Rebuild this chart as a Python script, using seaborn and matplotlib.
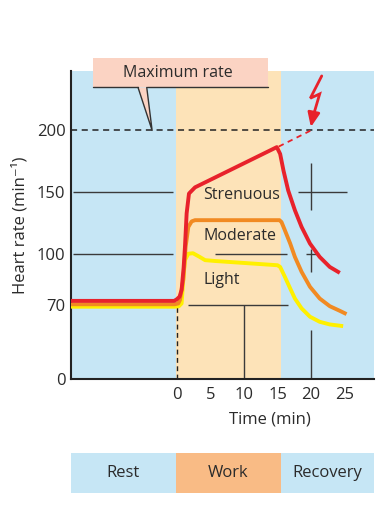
import numpy as np
import pandas as pd
import matplotlib
matplotlib.use("Agg")
import matplotlib.pyplot as plt
import seaborn as sns
from matplotlib.patches import Rectangle, Polygon

sns.set_theme(style="white")
plt.rcParams['font.family'] = ['Open Sans', 'DejaVu Sans']

# ---------------- data ----------------
t_strenuous = [-16, -0.4, 0, 0.4, 0.7, 1.0, 1.2, 1.45, 1.8, 2.7, 14.9, 15.4, 15.9, 16.6, 17.6, 18.6, 19.85, 21.3, 22.8, 24.3]
v_strenuous = [72.5, 72.5, 73.5, 75, 79, 92, 106, 133, 149, 154, 186.5, 181, 167.5, 151.5, 135.5, 122, 108.6, 98.4, 92.5, 89]

t_moderate = [-16, -0.3, 0.2, 0.45, 0.95, 1.3, 1.7, 2.2, 2.7, 15.3, 15.6, 16.1, 16.9, 17.6, 18.6, 19.85, 21.3, 22.8, 24.3, 25.3]
v_moderate = [70.5, 70.5, 71, 73, 85, 106, 122, 126.5, 127.5, 127.5, 126, 119.4, 108.6, 98.4, 89.6, 80.8, 73.9, 69, 64.6, 61.5]

t_light = [-16, -0.3, 0.3, 0.7, 0.95, 1.2, 1.7, 2.4, 3.4, 4.2, 5.7, 15.0, 15.4, 16.1, 16.9, 17.6, 18.6, 19.85, 21.3, 22.8, 24.8]
v_light = [68.5, 68.5, 69, 71, 85, 96.5, 100.4, 100.8, 98.4, 96.5, 96, 93.5, 92.5, 86.7, 79.8, 73.9, 66.9, 59, 54.2, 51.7, 50.1]

series_names = ["Strenuous", "Moderate", "Light"]
series_colors = ["#e8222b", "#f18a22", "#fff000"]

phase_names = ["Rest", "Work", "Recovery"]
phase_start = [-16.0, -0.1, 15.5]
phase_end = [-0.1, 15.5, 29.5]

x_ticks = [0, 5, 10, 15, 20, 25]
y_ticks = [0, 70, 100, 150, 200]
max_rate = 200

# ---------------- figure ----------------
fig = plt.figure(figsize=(3.79, 5.30), dpi=100)
ax = fig.add_axes([71/379, 151/530, 303/379, 308/530])
bar_ax = fig.add_axes([71/379, 37/530, 303/379, 40/530])

# piecewise-linear y scale (broken scale of the reference)
kv = np.array([-1000, 0, 70, 100, 150, 200, 1000], dtype=float)
kp = np.array([-1057, 0, 74, 125, 187, 249, 249 + 800 * 1.24], dtype=float)
def fwd(v):
    return np.interp(v, kv, kp)
def inv(p):
    return np.interp(p, kp, kv)
ax.set_yscale('function', functions=(fwd, inv))

ax.set_facecolor("#c6e6f5")
ax.axvspan(phase_start[1], phase_end[1], color="#fde3b8", lw=0, zorder=0)

ax.set_xlim(-15.8, 29.4)
ax.set_ylim(0, 248)

txtc = "#2b2b2b"
gc = "#3a3a3a"

# grid fragments
ax.hlines(150, -15.5, -0.6, color=gc, lw=1, zorder=1)
ax.hlines(150, 18.1, 25.4, color=gc, lw=1, zorder=1)
ax.hlines(100, -15.5, -0.6, color=gc, lw=1, zorder=1)
ax.hlines(100, 5.7, 16.4, color=gc, lw=1, zorder=1)
ax.hlines(100, 19.2, 21.2, color=gc, lw=1, zorder=1)
ax.hlines(70, 1.6, 16.6, color=gc, lw=1, zorder=1)
ax.vlines(20, 135.5, 174, color=gc, lw=1, zorder=1)
ax.vlines(20, 89.6, 104, color=gc, lw=1, zorder=1)
ax.vlines(20, 0, 46, color=gc, lw=1, zorder=1)
ax.vlines(10, 0, 70, color=gc, lw=1, zorder=1)
ax.vlines(0, 0, 72, color="#222", lw=1, ls=(0, (3.5, 2.5)), zorder=1)

# maximum-rate line
ax.axhline(max_rate, color="#222", lw=1.1, ls=(0, (4, 3)), zorder=2)

# curves via seaborn
frames = []
for name, tt, vv in zip(series_names, [t_strenuous, t_moderate, t_light],
                        [v_strenuous, v_moderate, v_light]):
    frames.append(pd.DataFrame({"t": tt, "rate": vv, "level": name}))
df = pd.concat(frames, ignore_index=True)
sns.lineplot(data=df, x="t", y="rate", hue="level", palette=dict(zip(series_names, series_colors)),
             hue_order=series_names[::-1], lw=2.8, sort=False, legend=False, ax=ax, zorder=3,
             solid_capstyle="butt", solid_joinstyle="round")

# red extrapolation to max rate
ax.plot([15.2, 20], [187, 200], color=series_colors[0], lw=1.3, ls=(0, (3, 2.5)), zorder=3)
# lightning bolt
ax.plot([21.6, 19.9, 21.3, 20.35], [244, 226, 229.5, 212], color=series_colors[0], lw=2, zorder=4,
        solid_joinstyle="miter", clip_on=False)
ax.annotate("", xy=(19.9, 200.5), xytext=(20.4, 214),
            arrowprops=dict(arrowstyle="-|>,head_length=0.7,head_width=0.3", color=series_colors[0], lw=2),
            zorder=4)

# series labels
ax.text(3.9, 148, "Strenuous", fontsize=11.5, color=txtc, va="center", ha="left", zorder=5)
ax.text(3.9, 115, "Moderate", fontsize=11.5, color=txtc, va="center", ha="left", zorder=5)
ax.text(3.9, 85, "Light", fontsize=11.5, color=txtc, va="center", ha="left", zorder=5)

# maximum rate callout
box_fc = "#fbd3c3"
ax.add_patch(Rectangle((-12.5, 234.7), 26.1, 24.2, fc=box_fc, ec="none", clip_on=False, zorder=5))
ax.plot([-12.5, -5.8], [234.7, 234.7], color="#333", lw=1, clip_on=False, zorder=6)
ax.plot([-4.5, 13.6], [234.7, 234.7], color="#333", lw=1, clip_on=False, zorder=6)
ax.add_patch(Polygon([(-5.8, 234.7), (-4.5, 234.7), (-3.7, 200)], closed=True, fc=box_fc,
                     ec="none", clip_on=False, zorder=5))
ax.plot([-5.8, -3.7, -4.5], [234.7, 200, 234.7], color="#333", lw=1, clip_on=False, zorder=6)
ax.text(0.1, 246.5, "Maximum rate", fontsize=11.5, color=txtc, ha="center", va="center", zorder=7)

# axes styling
for s in ["top", "right"]:
    ax.spines[s].set_visible(False)
for s in ["left", "bottom"]:
    ax.spines[s].set_color("#222")
    ax.spines[s].set_linewidth(1.5)
ax.set_xticks(x_ticks)
ax.set_yticks(y_ticks)
ax.set_xticklabels([str(v) for v in x_ticks])
ax.set_yticklabels([str(v) for v in y_ticks])
ax.tick_params(axis="x", direction="in", length=7, width=1, color=gc, pad=6, labelsize=12, labelcolor=txtc)
ax.tick_params(axis="y", direction="in", length=6, width=1, color=gc, pad=4, labelsize=12, labelcolor=txtc)
ax.set_xlabel("Time (min)", fontsize=12, color=txtc)
ax.xaxis.set_label_coords(0.657, -0.107)
ax.set_ylabel("Heart rate (min\u207b\u00b9)", fontsize=12, color=txtc)
ax.yaxis.set_label_coords(-0.14, 0.5)

# phase bar
bar_colors = ["#c6e6f5", "#f9bb85", "#c6e6f5"]
for name, s0, s1, c in zip(phase_names, phase_start, phase_end, bar_colors):
    bar_ax.barh(0, s1 - s0, left=s0, height=1, color=c, lw=0)
    bar_ax.text((s0 + s1) / 2, 0, name, ha="center", va="center", fontsize=12, color=txtc)
bar_ax.set_xlim(ax.get_xlim())
bar_ax.set_ylim(-0.5, 0.5)
bar_ax.axis("off")

fig.savefig("out.png", dpi=100)
